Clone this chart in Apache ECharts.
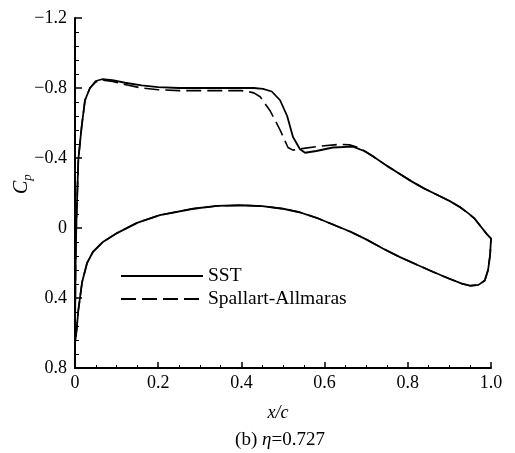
<!DOCTYPE html>
<html>
<head>
<meta charset="utf-8">
<script src="https://cdn.jsdelivr.net/npm/echarts@6/dist/echarts.min.js"></script>
<style>
  html, body { margin: 0; padding: 0; background: #fff; }
  #chart { width: 515px; height: 453px; }
</style>
</head>
<body>
<div id="chart"></div>
<script>
// Pressure coefficient along the section at eta = 0.727 (x/c, Cp)
const sstUpper = [
  [0, 0.66], [0.0005, 0.45], [0.0015, 0.2], [0.003, 0.0], [0.005, -0.16], [0.008, -0.39],
  [0.016, -0.58], [0.024, -0.73], [0.036, -0.80], [0.05, -0.84], [0.065, -0.85], [0.09, -0.845],
  [0.12, -0.83], [0.16, -0.815], [0.2, -0.805], [0.25, -0.80], [0.3, -0.80], [0.35, -0.80],
  [0.4, -0.80], [0.43, -0.80], [0.452, -0.795], [0.473, -0.78], [0.493, -0.73], [0.51, -0.64],
  [0.524, -0.52], [0.541, -0.45], [0.553, -0.43], [0.58, -0.44], [0.62, -0.46], [0.668, -0.465],
  [0.695, -0.44], [0.716, -0.41], [0.75, -0.355], [0.78, -0.31], [0.81, -0.265], [0.84, -0.225],
  [0.87, -0.19], [0.9, -0.155], [0.925, -0.12], [0.945, -0.085], [0.96, -0.055], [0.975, -0.01],
  [0.99, 0.035], [1.0, 0.06]
];

const saUpper = [
  [0, 0.66], [0.0005, 0.45], [0.0015, 0.2], [0.003, 0.0], [0.005, -0.16], [0.008, -0.39],
  [0.016, -0.58], [0.024, -0.73], [0.036, -0.80], [0.05, -0.835], [0.065, -0.845], [0.09, -0.838],
  [0.12, -0.82], [0.16, -0.80], [0.2, -0.79], [0.25, -0.785], [0.3, -0.785], [0.35, -0.785],
  [0.4, -0.785], [0.415, -0.78], [0.43, -0.772], [0.445, -0.75], [0.469, -0.67], [0.493, -0.56],
  [0.512, -0.46], [0.524, -0.445], [0.55, -0.455], [0.58, -0.465], [0.635, -0.478], [0.66, -0.475],
  [0.68, -0.46], [0.7, -0.435], [0.716, -0.41], [0.75, -0.355], [0.78, -0.31], [0.81, -0.265],
  [0.84, -0.225], [0.87, -0.19], [0.9, -0.155], [0.925, -0.12], [0.945, -0.085], [0.96, -0.055],
  [0.975, -0.01], [0.99, 0.035], [1.0, 0.06]
];

// Lower surface: both turbulence models give the same distribution
const lowerSurface = [
  [0, 0.66], [0.004, 0.58], [0.008, 0.47], [0.017, 0.31], [0.029, 0.2], [0.043, 0.137],
  [0.067, 0.08], [0.101, 0.029], [0.149, -0.029], [0.204, -0.074], [0.284, -0.11], [0.341, -0.126],
  [0.4, -0.13], [0.45, -0.125], [0.5, -0.11], [0.54, -0.09], [0.582, -0.057], [0.62, -0.02],
  [0.661, 0.02], [0.70, 0.065], [0.74, 0.117], [0.78, 0.165], [0.822, 0.21], [0.86, 0.25],
  [0.9, 0.29], [0.93, 0.318], [0.95, 0.33], [0.97, 0.325], [0.985, 0.30], [0.993, 0.24],
  [0.998, 0.15], [1.0, 0.06]
];

const seriesNames = ['SST', 'Spallart-Allmaras'];
const xTicks = [0, 0.2, 0.4, 0.6, 0.8, 1.0];
const yTicks = [-1.2, -0.8, -0.4, 0, 0.4, 0.8];

const serif = 'Liberation Serif, Times New Roman, serif';

// closed loop: upper surface LE -> TE, then lower surface TE -> LE
function loop(upper, lower) {
  return upper.concat(lower.slice().reverse());
}

function fmtY(v) {
  if (Math.abs(v) < 1e-9) return '0';
  const s = Math.abs(v).toFixed(1);
  return v < 0 ? '\u2212' + s : s;
}
function fmtX(v) {
  return Math.abs(v) < 1e-9 ? '0' : v.toFixed(1);
}

const chart = echarts.init(document.getElementById('chart'), null, { renderer: 'canvas' });

chart.setOption({
  backgroundColor: '#ffffff',
  animation: false,
  color: ['#000', '#000'],
  grid: { left: 75, right: 24, top: 18, bottom: 85, containLabel: false },
  legend: {
    data: seriesNames,
    orient: 'vertical',
    left: 120,
    top: 266,
    padding: 0,
    itemWidth: 82,
    itemHeight: 20,
    itemGap: 3,
    itemStyle: { opacity: 0 },
    textStyle: { fontFamily: serif, fontSize: 19.5, lineHeight: 20, color: '#000' }
  },
  xAxis: {
    type: 'value',
    min: xTicks[0],
    max: xTicks[xTicks.length - 1],
    interval: 0.2,
    axisLine: { onZero: false, lineStyle: { color: '#000', width: 2 } },
    axisTick: { inside: true, length: 6, lineStyle: { color: '#000', width: 1.5 } },
    minorTick: { show: true, splitNumber: 4, length: 3, lineStyle: { color: '#000', width: 1 } },
    splitLine: { show: false },
    axisLabel: { formatter: fmtX, fontFamily: serif, fontSize: 18, color: '#000', margin: 6 }
  },
  yAxis: {
    type: 'value',
    inverse: true,
    min: yTicks[0],
    max: yTicks[yTicks.length - 1],
    interval: 0.4,
    axisLine: { onZero: false, lineStyle: { color: '#000', width: 2 } },
    axisTick: { inside: true, length: 7, lineStyle: { color: '#000', width: 1.5 } },
    minorTick: { show: true, splitNumber: 5, length: 4, lineStyle: { color: '#000', width: 1 } },
    splitLine: { show: false },
    axisLabel: { formatter: fmtY, fontFamily: serif, fontSize: 18, color: '#000', margin: 8 }
  },
  series: [
    {
      name: seriesNames[0],
      type: 'line',
      data: loop(sstUpper, lowerSurface),
      symbol: 'none',
      smooth: false,
      itemStyle: { color: '#000' },
      lineStyle: { color: '#000', width: 1.8, type: 'solid' },
      z: 3
    },
    {
      name: seriesNames[1],
      type: 'line',
      data: loop(saUpper, lowerSurface),
      symbol: 'none',
      smooth: false,
      itemStyle: { color: '#000' },
      lineStyle: { color: '#000', width: 1.6, type: [15, 6] },
      z: 2
    }
  ],
  graphic: [
    {
      type: 'text',
      x: 10, y: 194,
      rotation: Math.PI / 2,
      style: {
        text: '{c|C}{p|p}',
        fill: '#000',
        rich: {
          c: { fontFamily: serif, fontStyle: 'italic', fontSize: 20, fill: '#000', lineHeight: 24 },
          p: { fontFamily: serif, fontStyle: 'italic', fontSize: 13, fill: '#000', lineHeight: 24, verticalAlign: 'bottom', padding: [9, 0, 0, 0] }
        }
      }
    },
    {
      type: 'text',
      x: 278, y: 413,
      style: {
        text: 'x/c',
        fontFamily: serif, fontStyle: 'italic', fontSize: 18, fill: '#000',
        align: 'center', verticalAlign: 'middle'
      }
    },
    {
      type: 'text',
      x: 280, y: 440,
      style: {
        text: '(b) {e|\u03b7}=0.727',
        fontFamily: serif, fontSize: 19, fill: '#000',
        align: 'center', verticalAlign: 'middle',
        rich: {
          e: { fontFamily: serif, fontStyle: 'italic', fontSize: 19, fill: '#000' }
        }
      }
    }
  ]
});
</script>
</body>
</html>
